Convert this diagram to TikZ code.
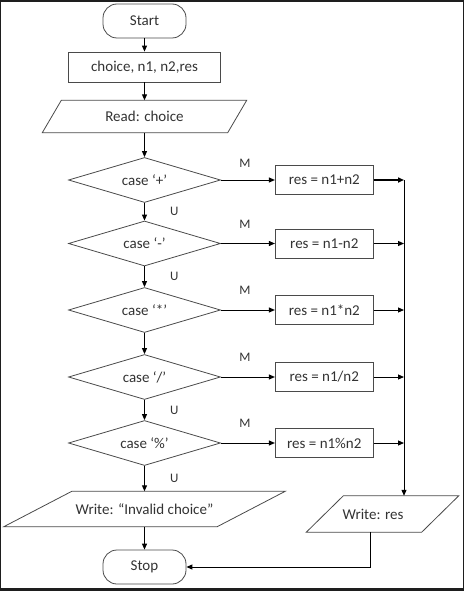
\documentclass[tikz,border=0pt]{standalone}
\usepackage{fontspec}
\setmainfont{Carlito}
\usetikzlibrary{positioning,shapes.geometric,arrows.meta}

\definecolor{framegray}{HTML}{1E1E1E}
\definecolor{inkgray}{HTML}{333333}
\definecolor{edgegray}{HTML}{4A4A4A}

\begin{document}
\begin{tikzpicture}[x=1pt,y=-1pt,
  >={Triangle[length=6pt,width=5pt]},
  every node/.style={font=\fontsize{15}{18}\selectfont, text=inkgray},
  outline/.style={draw=edgegray, line width=0.8pt, inner sep=0pt},
  terminal/.style={outline, rounded corners=14pt, minimum width=83pt, minimum height=34pt},
  procbox/.style={outline, minimum width=98pt, minimum height=29pt},
  iobox/.style={inner sep=0pt},
  casebox/.style={outline, diamond, aspect=3.3, minimum width=152pt, minimum height=45pt},
  lbl/.style={inner sep=0pt, font=\fontsize{13}{15}\selectfont},
  flow/.style={->, line width=1pt, black}]

  \useasboundingbox (0,0) rectangle (464,591);
  \fill[framegray] (0,0) rectangle (464,591);
  \fill[white] (1,2) rectangle (462.5,587.5);

  % main column
  \node[terminal] (start) at (144.5,21) {Start};
  \node[procbox, minimum width=152pt, minimum height=30pt] (vars) at (144.5,67) {choice, n1, n2,res};
  \node[iobox, minimum width=185pt, minimum height=32pt] (read) at (144.5,116.5) {Read: choice};
  \draw[outline] ([xshift=-9.5pt]read.south west) -- ([xshift=-9.5pt]read.south east)
    -- ([xshift=9.5pt]read.north east) -- ([xshift=9.5pt]read.north west) -- cycle;

  \node[casebox] (plus) at (144.5,180) {case ‘+’};
  \node[casebox] (minus) at (144.5,243.5) {case ‘-’};
  \node[casebox] (times) at (144.5,310) {case ‘*’};
  \node[casebox] (divide) at (144.5,377) {case ‘/’};
  \node[casebox] (modulo) at (144.5,443) {case ‘\%’};

  \node[iobox, minimum width=213pt, minimum height=35pt] (invalid) at (144.5,509) {Write: “Invalid choice”};
  \draw[outline] ([xshift=-34pt]invalid.south west) -- ([xshift=-34pt]invalid.south east)
    -- ([xshift=34pt]invalid.north east) -- ([xshift=34pt]invalid.north west) -- cycle;
  \node[terminal] (stop) at (144.5,567) {Stop};

  % results
  \node[procbox, right=54pt of plus] (resplus) {res = n1+n2};
  \node[procbox, right=54pt of minus] (resminus) {res = n1-n2};
  \node[procbox, right=54pt of times] (restimes) {res = n1*n2};
  \node[procbox, right=54pt of divide] (resdivide) {res = n1/n2};
  \node[procbox, right=54pt of modulo] (resmodulo) {res = n1\%n2};

  \node[iobox, minimum width=115pt, minimum height=36pt] (wres) at (373,514) {Write: res};
  \draw[outline] ([xshift=-9pt]wres.south west) -- ([xshift=-9pt]wres.south east)
    -- ([xshift=28pt]wres.north east) -- ([xshift=28pt]wres.north west) -- cycle;
  \coordinate (rail) at (404,180);

  \draw[flow] (start) -- (vars);
  \draw[flow] (vars) -- (read);
  \draw[flow] (read) -- (plus);
  \draw[flow] (plus) -- (minus) node[lbl, midway, right=25pt] (u1) {U};
  \draw[flow] (minus) -- (times) node[lbl, midway, right=25pt] (u2) {U};
  \draw[flow] (times) -- (divide);
  \draw[flow] (divide) -- (modulo) node[lbl, midway, right=25pt] (u3) {U};
  \draw[flow] (modulo) -- (invalid) node[lbl, midway, right=25pt] (u4) {U};
  \draw[flow] (invalid) -- (stop);

  \draw[flow] (plus) -- (resplus) node[lbl, midway, above=12pt, xshift=-3pt] (m1) {M};
  \draw[flow] (minus) -- (resminus) node[lbl, midway, above=15pt, xshift=-3pt] (m2) {M};
  \draw[flow] (times) -- (restimes) node[lbl, midway, above=15pt, xshift=-3pt] (m3) {M};
  \draw[flow] (divide) -- (resdivide) node[lbl, midway, above=15pt, xshift=-3pt] (m4) {M};
  \draw[flow] (modulo) -- (resmodulo) node[lbl, midway, above=15pt, xshift=-3pt] (m5) {M};

  \draw[flow, line width=1.6pt] (resplus) -- (resplus -| rail);
  \draw[flow] (resminus) -- (resminus -| rail);
  \draw[flow] (restimes) -- (restimes -| rail);
  \draw[flow] (resdivide) -- (resdivide -| rail);
  \draw[flow] (resmodulo) -- (resmodulo -| rail);

  \draw[flow] (rail) -- (rail |- wres.north);
  \draw[flow] ([xshift=-3pt]wres.south) |- (stop.east);
\end{tikzpicture}
\end{document}
